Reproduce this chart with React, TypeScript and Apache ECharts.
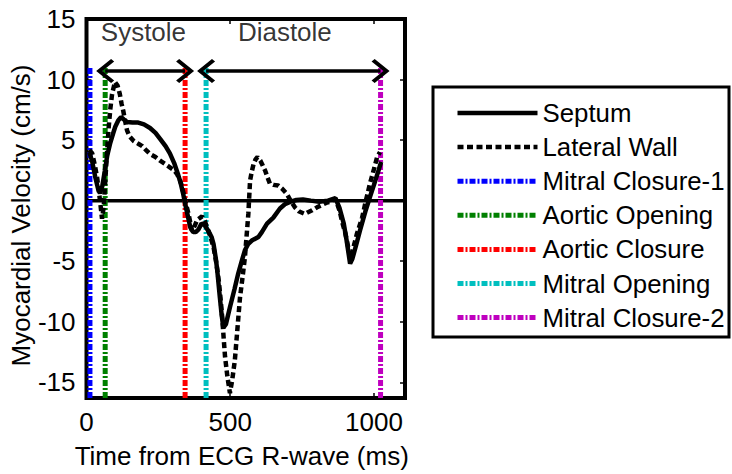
import React, { useEffect, useRef } from "react";
import * as echarts from "echarts";

// ---- data ----
const septumTime = [10, 20, 30, 40, 47, 55, 64, 72, 82, 92, 100, 110, 120, 130, 141, 160, 180, 200, 221, 240, 256, 275, 290, 305, 318, 328, 336, 343, 350, 361, 371, 380, 389, 400, 410, 424, 435, 442, 450, 455, 464, 470, 476, 485, 499, 515, 528, 540, 551, 562, 575, 598, 610, 628, 650, 673, 690, 708, 730, 753, 780, 810, 840, 866, 880, 895, 905, 917, 925, 940, 951, 970, 986, 1000, 1016, 1025];
const septumVel = [4.0, 3.2, 2.0, 1.0, 0.6, 1.2, 2.5, 3.7, 4.7, 5.5, 6.1, 6.6, 6.9, 6.7, 6.5, 6.45, 6.45, 6.3, 6.0, 5.6, 5.1, 4.5, 3.9, 3.1, 2.2, 1.4, 0.6, -0.25, -1.0, -2.2, -2.6, -2.6, -2.4, -1.9, -2.0, -2.5, -3.0, -3.6, -4.8, -5.8, -8.0, -9.4, -10.5, -10.2, -8.8, -7.3, -6.0, -5.0, -4.1, -3.6, -3.3, -3.0, -2.6, -1.9, -1.4, -0.65, -0.3, -0.1, 0.05, 0.1, 0.0, -0.1, 0.0, 0.2, -0.6, -1.9, -3.3, -5.2, -4.8, -3.5, -2.5, -0.9, 0.3, 1.3, 2.5, 3.2];

const lateralTime = [10, 20, 30, 37, 47, 54, 60, 64, 70, 77, 83, 89, 99, 108, 116, 122, 128, 135, 141, 150, 165, 180, 194, 210, 221, 240, 256, 275, 290, 305, 315, 325, 333, 343, 355, 367, 376, 385, 402, 412, 419, 430, 442, 452, 460, 466, 472, 477, 482, 490, 499, 507, 516, 525, 534, 543, 551, 557, 563, 569, 575, 581, 588, 595, 605, 613, 621, 630, 638, 650, 667, 680, 697, 710, 725, 740, 760, 767, 785, 802, 820, 837, 850, 866, 880, 890, 901, 910, 917, 925, 940, 959, 970, 986, 1000, 1011, 1021];
const lateralVel = [4.2, 3.9, 2.8, 1.9, 0.0, -1.5, -0.5, 1.1, 3.5, 6.0, 7.6, 8.8, 9.8, 9.5, 8.8, 8.0, 7.4, 6.5, 5.8, 5.3, 4.9, 4.7, 4.5, 4.1, 3.85, 3.6, 3.3, 3.0, 2.75, 2.5, 2.2, 1.7, 1.1, 0.0, -1.1, -2.5, -2.1, -1.6, -1.3, -1.7, -2.2, -2.9, -3.85, -5.2, -6.6, -8.0, -9.6, -11.3, -12.9, -14.5, -15.9, -14.8, -13.2, -10.6, -8.0, -6.3, -4.7, -2.9, -1.1, 1.65, 2.4, 3.0, 3.4, 3.6, 3.3, 2.9, 2.5, 1.9, 1.4, 1.3, 1.25, 1.0, 0.55, 0.0, -0.55, -0.9, -1.1, -1.0, -0.8, -0.55, -0.35, -0.15, -0.1, 0.15, -0.8, -1.8, -2.75, -3.8, -4.7, -4.2, -2.8, -1.4, -0.2, 1.4, 2.6, 3.6, 4.0];

const eventNames = ["Mitral Closure-1", "Aortic Opening", "Aortic Closure", "Mitral Opening", "Mitral Closure-2"];
const eventTimes = [12, 65, 343, 416, 1023];
const eventTop = 11;

const phaseNames = ["Systole", "Diastole"];
const phaseLabelTimes = [198, 690];
const phaseLabelY = 13.9;
const phaseArrowY = 10.7;

const xMin = 0;
const xMax = 1108;
const xTicks = [0, 500, 1000];
const yMin = -16.3;
const yMax = 15;
const yTicks = [-15, -10, -5, 0, 5, 10, 15];

// ---- styles ----
const FONT = "'Liberation Sans', Arial, Helvetica, sans-serif";
const eventColors = ["#0000FF", "#008000", "#FF0000", "#00BFBF", "#BF00BF"];
const CHEVRON = "path://M0,0 L12,12 L9.5,14.5 L0,5 L-9.5,14.5 L-12,12 Z";

export default function App() {
  const ref = useRef<HTMLDivElement>(null);

  useEffect(() => {
    if (!ref.current) return;
    const chart = echarts.init(ref.current, undefined, { renderer: "svg" });

    const septumData = septumTime.map((t, i) => [t, septumVel[i]]);
    const lateralData = lateralTime.map((t, i) => [t, lateralVel[i]]);

    const eventSeries = eventNames.map((name, i) => ({
      name,
      type: "line",
      symbol: "none",
      silent: true,
      data: [
        [eventTimes[i], yMin],
        [eventTimes[i], eventTop],
      ],
      lineStyle: { color: eventColors[i], width: 5, type: [6, 2, 2, 2] },
      itemStyle: { color: eventColors[i] },
      z: 2,
    }));

    const arrowPairs = [
      [eventTimes[1], eventTimes[2]],
      [eventTimes[3], eventTimes[4]],
    ];

    const tickStyle = { show: true, inside: true, length: 5, lineStyle: { color: "#000", width: 1.5 } };
    const labelStyle = { fontSize: 26, fontFamily: FONT, color: "#000" };

    chart.setOption({
      animation: false,
      textStyle: { fontFamily: FONT, color: "#000" },
      grid: {
        left: 86.5,
        top: 19,
        width: 318.5,
        height: 379,
        show: true,
        borderColor: "#000",
        borderWidth: 4,
        backgroundColor: "#fff",
      },
      xAxis: [
        {
          type: "value",
          min: xMin,
          max: xMax,
          interval: 500,
          name: "Time from ECG R-wave (ms)",
          nameLocation: "middle",
          nameGap: 45,
          nameTextStyle: { ...labelStyle, padding: [0, 8, 0, 0] },
          axisLine: { show: false, onZero: false },
          axisTick: { ...tickStyle, customValues: xTicks },
          axisLabel: { ...labelStyle, margin: 11, customValues: xTicks, formatter: (v: number) => String(v) },
          splitLine: { show: false },
        },
        {
          type: "value",
          position: "top",
          min: xMin,
          max: xMax,
          interval: 500,
          axisLine: { show: false, onZero: false },
          axisTick: { ...tickStyle, customValues: xTicks },
          axisLabel: { show: false },
          splitLine: { show: false },
        },
      ],
      yAxis: [
        {
          type: "value",
          min: yMin,
          max: yMax,
          name: "Myocardial Velocity (cm/s)",
          nameLocation: "middle",
          nameRotate: 90,
          nameGap: 49,
          nameTextStyle: { ...labelStyle, padding: [0, 14, 0, 0] },
          axisLine: { show: false, onZero: false },
          axisTick: { ...tickStyle, customValues: yTicks },
          axisLabel: { ...labelStyle, margin: 11, customValues: yTicks },
          splitLine: { show: false },
        },
        {
          type: "value",
          position: "right",
          min: yMin,
          max: yMax,
          axisLine: { show: false, onZero: false },
          axisTick: { ...tickStyle, customValues: yTicks },
          axisLabel: { show: false },
          splitLine: { show: false },
        },
      ],
      legend: {
        orient: "vertical",
        left: 450,
        top: 95,
        itemWidth: 80,
        itemHeight: 14,
        itemGap: 8.1,
        data: ["Septum", "Lateral Wall", ...eventNames],
        itemStyle: { opacity: 0 },
        lineStyle: { width: "inherit" },
        textStyle: { fontSize: 25.8, fontFamily: FONT, color: "#000", lineHeight: 25, padding: [0, 0, 0, 0] },
        selectedMode: false,
      },
      graphic: [
        {
          type: "rect",
          shape: { x: 433, y: 87, width: 296, height: 250 },
          style: { fill: "none", stroke: "#000", lineWidth: 3 },
          silent: true,
        },
      ],
      series: [
        {
          name: "zero",
          type: "line",
          symbol: "none",
          silent: true,
          data: [
            [xMin, 0],
            [xMax, 0],
          ],
          lineStyle: { color: "#000", width: 3.5 },
          z: 1,
          markLine: {
            silent: true,
            symbol: [CHEVRON, CHEVRON],
            symbolSize: [24, 18],
            label: { show: false },
            lineStyle: { color: "#000", width: 3.5, type: "solid" },
            data: arrowPairs.map(([a, b]) => [
              { coord: [a, phaseArrowY] },
              { coord: [b, phaseArrowY] },
            ]),
          },
        },
        ...eventSeries,
        {
          name: "Septum",
          type: "line",
          symbol: "none",
          data: septumData,
          lineStyle: { color: "#000", width: 4.5 },
          itemStyle: { color: "#000" },
          z: 4,
        },
        {
          name: "Lateral Wall",
          type: "line",
          symbol: "none",
          data: lateralData,
          lineStyle: { color: "#000", width: 4.5, type: [6, 3.5] },
          itemStyle: { color: "#000" },
          z: 3,
        },
        {
          name: "phases",
          type: "scatter",
          symbolSize: 0,
          silent: true,
          data: phaseNames.map((n, i) => ({ name: n, value: [phaseLabelTimes[i], phaseLabelY] })),
          label: {
            show: true,
            position: "inside",
            formatter: "{b}",
            fontSize: 26,
            fontFamily: FONT,
            color: "#000",
          },
          z: 5,
        },
      ],
    });

    return () => chart.dispose();
  }, []);

  return (
    <div
      ref={ref}
      style={{ position: "fixed", left: 0, top: 0, width: 732, height: 474, background: "#fff" }}
    />
  );
}
